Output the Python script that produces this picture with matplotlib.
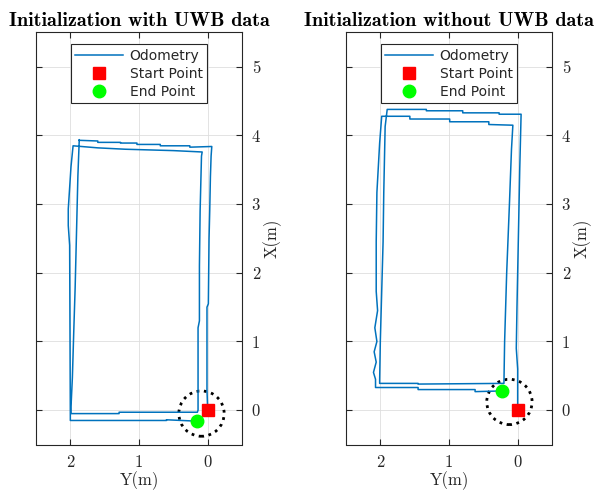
import matplotlib
matplotlib.use("Agg")
import matplotlib.pyplot as plt
from matplotlib.patches import Circle

# trayectoria con UWB (Y, X) en metros
uwb_y = [0.00, 0.01, 0.01, -0.01, -0.02, -0.03, -0.04, -0.05, -0.06,
         0.26, 0.26, 0.69, 0.69, 1.03, 1.03, 1.27, 1.27, 1.60, 1.60, 1.875,
         1.87, 1.89, 1.91, 1.93, 1.95, 1.97, 1.99,
         1.99, 1.29, 1.29, 0.15,
         0.14, 0.14, 0.12, 0.12, 0.11, 0.10, 0.09, 0.08,
         0.50, 1.20, 1.60, 1.96,
         1.99, 2.03, 2.03, 2.01, 2.00, 2.00,
         0.60, 0.60, 0.16]
uwb_x = [0.00, 0.30, 1.50, 1.55, 2.50, 2.90, 3.40, 3.70, 3.84,
         3.83, 3.85, 3.85, 3.87, 3.87, 3.89, 3.89, 3.90, 3.90, 3.92, 3.93,
         3.94, 3.41, 2.59, 1.78, 1.15, 0.48, 0.05,
         -0.05, -0.05, -0.03, -0.03,
         0.00, 1.20, 1.30, 2.10, 2.90, 3.30, 3.70, 3.76,
         3.78, 3.80, 3.82, 3.85,
         3.55, 2.93, 2.69, 2.40, -0.10, -0.15,
         -0.15, -0.14, -0.16]

# trayectoria sin UWB
nouwb_y = [0.00, 0.00, 0.02, 0.01, -0.01, -0.03, -0.05,
           0.27, 0.27, 0.80, 0.80, 1.33, 1.33, 1.90,
           1.93, 1.95, 1.96, 1.98, 2.00, 2.01, 2.01,
           1.45, 1.45, 0.20,
           0.19, 0.16, 0.12, 0.09, 0.07,
           0.42, 0.42, 0.99, 0.99, 1.57, 1.57, 1.98,
           2.01, 2.05, 2.06, 2.06, 2.04, 2.08, 2.05, 2.09, 2.06, 2.10, 2.07, 2.07,
           1.45, 1.45, 0.62, 0.62, 0.23]
nouwb_x = [0.00, 0.60, 0.90, 1.50, 2.50, 3.50, 4.31,
           4.31, 4.33, 4.33, 4.36, 4.36, 4.38, 4.38,
           4.13, 3.17, 2.45, 1.73, 1.01, 0.43, 0.39,
           0.39, 0.38, 0.39,
           1.00, 2.00, 3.00, 3.80, 4.15,
           4.16, 4.20, 4.20, 4.24, 4.24, 4.28, 4.28,
           3.89, 3.17, 2.45, 1.73, 1.45, 1.20, 1.00, 0.85, 0.70, 0.55, 0.45, 0.33,
           0.33, 0.30, 0.30, 0.27, 0.28]

paneles = [
    dict(titulo='Initialization with UWB data', y=uwb_y, x=uwb_x,
         inicio=(0.0, 0.0), fin=(0.16, -0.16), circulo=(0.09, -0.05)),
    dict(titulo='Initialization without UWB data', y=nouwb_y, x=nouwb_x,
         inicio=(0.0, 0.0), fin=(0.23, 0.28), circulo=(0.12, 0.12)),
]
radio = 0.33
ticks_y = [0, 1, 2]
ticks_x = [0, 1, 2, 3, 4, 5]

azul = '#0072BD'
gris = '#262626'

fig = plt.figure(figsize=(5.98, 4.92), dpi=100)
posiciones = [[36/598, 47/492, 206/598, 413/492],
              [346/598, 47/492, 206/598, 413/492]]

for pos, p in zip(posiciones, paneles):
    ax = fig.add_axes(pos)
    ax.plot(p['y'], p['x'], color=azul, linewidth=1.1, label='Odometry')
    ax.plot(*p['inicio'], 's', color='red', markersize=9, label='Start Point')
    ax.plot(*p['fin'], 'o', color='#00FF00', markersize=9, label='End Point')
    ax.add_patch(Circle(p['circulo'], radio, fill=False, edgecolor='black',
                        linestyle=':', linewidth=2.0))

    ax.set_xlim(2.5, -0.5)
    ax.set_ylim(-0.5, 5.5)
    ax.set_aspect('equal')
    ax.set_xticks(ticks_y)
    ax.set_xticklabels([str(t) for t in ticks_y], fontfamily='cmr10', fontsize=12)
    ax.set_yticks(ticks_x)
    ax.set_yticklabels([str(t) for t in ticks_x], fontfamily='cmr10', fontsize=12)
    ax.tick_params(direction='in', length=4, width=0.8, color=gris, labelcolor=gris,
                   top=True, right=True, labelleft=False, labelright=True, pad=7)
    ax.grid(True, color='#dedede', linewidth=0.6)
    ax.set_axisbelow(True)
    for s in ax.spines.values():
        s.set_color(gris)
        s.set_linewidth(0.8)

    ax.set_xlabel('Y(m)', fontfamily='cmr10', fontsize=12, color=gris, labelpad=1)
    ax.yaxis.set_label_position('right')
    ax.set_ylabel('X(m)', fontfamily='cmr10', fontsize=12, color=gris, labelpad=2)
    ax.set_title(p['titulo'], fontfamily='cmb10', fontsize=14.5, pad=5)

    leg = ax.legend(loc='upper center', bbox_to_anchor=(0.5, 1 - 12/413),
                    borderaxespad=0, fancybox=False, framealpha=1,
                    edgecolor=gris, handlelength=3.4,
                    labelspacing=0.3, borderpad=0.3, handletextpad=0.5,
                    prop={'family': 'DejaVu Sans', 'size': 10})
    leg.get_frame().set_linewidth(0.8)
    for t in leg.get_texts():
        t.set_color(gris)

fig.savefig('out.png', dpi=100)
